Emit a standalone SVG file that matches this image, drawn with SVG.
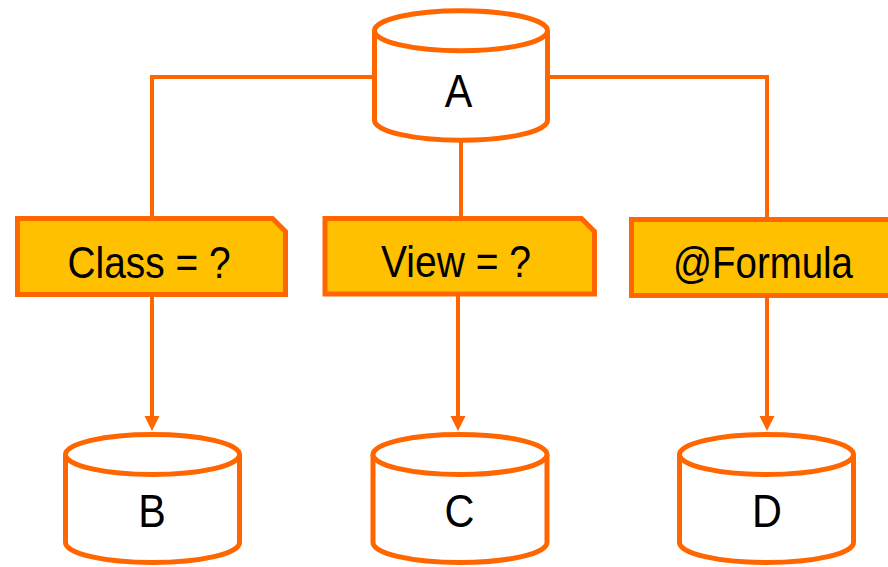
<svg xmlns="http://www.w3.org/2000/svg" width="888" height="567" viewBox="0 0 888 567">
<style>
.cyl{fill:#fff;stroke:#FF6600;stroke-width:5}
.box{fill:#FFC000;stroke:#FF6600;stroke-width:5;stroke-linejoin:miter}
.conn{fill:none;stroke:#FF6600;stroke-width:4}
.lbl{font-family:"Liberation Sans",Arial,sans-serif;fill:#000;text-anchor:middle}
.big{font-size:47px}
.mid{font-size:44px}
</style>
<defs>
<marker id="arr" markerUnits="userSpaceOnUse" markerWidth="16" markerHeight="16" refX="0" refY="7.5" orient="auto" viewBox="0 0 16 16">
<path d="M0,0 L15,7.5 L0,15 Z" fill="#FF6600"/>
</marker>
</defs>
<rect width="888" height="567" fill="#fff"/>
<g id="connectors">
<path class="conn" d="M374,77 H152 V217"/>
<path class="conn" d="M461,140 V217"/>
<path class="conn" d="M548,77 H767 V218"/>
<path class="conn" d="M152,297 V416" marker-end="url(#arr)"/>
<path class="conn" d="M458,296 V416" marker-end="url(#arr)"/>
<path class="conn" d="M767,297 V416" marker-end="url(#arr)"/>
</g>
<g id="nodeA">
<path class="cyl" d="M374.5,30.7 V120.2 A86.5,20 0 0 0 547.5,120.2 V30.7"/>
<ellipse class="cyl" cx="461" cy="30.7" rx="86.5" ry="20"/>
<text class="lbl big" x="458.5" y="107" textLength="27.6" lengthAdjust="spacingAndGlyphs">A</text>
</g>
<g id="nodeClass">
<path class="box" d="M17.5,218.5 H272.5 L285.5,231.5 V294.5 H17.5 Z"/>
<text class="lbl mid" x="149" y="278" textLength="163" lengthAdjust="spacingAndGlyphs">Class = ?</text>
</g>
<g id="nodeView">
<path class="box" d="M325,218.5 H581.5 L594.5,231.5 V294 H325 Z"/>
<text class="lbl mid" x="456" y="277" textLength="150" lengthAdjust="spacingAndGlyphs">View = ?</text>
</g>
<g id="nodeFormula">
<path class="box" d="M631.5,219.5 H893.5 L906.5,232.5 V295.5 H631.5 Z"/>
<text class="lbl mid" x="763" y="278" textLength="180" lengthAdjust="spacingAndGlyphs">@Formula</text>
</g>
<g id="nodeB">
<path class="cyl" d="M65.5,454.5 V542.5 A87,20 0 0 0 239.5,542.5 V454.5"/>
<ellipse class="cyl" cx="152.5" cy="454.5" rx="87" ry="20"/>
<text class="lbl big" x="152" y="527" textLength="27.6" lengthAdjust="spacingAndGlyphs">B</text>
</g>
<g id="nodeC">
<path class="cyl" d="M373,454.5 V542.5 A87,20 0 0 0 547,542.5 V454.5"/>
<ellipse class="cyl" cx="460" cy="454.5" rx="87" ry="20"/>
<text class="lbl big" x="459.5" y="527" textLength="29.9" lengthAdjust="spacingAndGlyphs">C</text>
</g>
<g id="nodeD">
<path class="cyl" d="M679.5,454.5 V542.5 A87,20 0 0 0 853.5,542.5 V454.5"/>
<ellipse class="cyl" cx="766.5" cy="454.5" rx="87" ry="20"/>
<text class="lbl big" x="767" y="527" textLength="29.9" lengthAdjust="spacingAndGlyphs">D</text>
</g>
</svg>
